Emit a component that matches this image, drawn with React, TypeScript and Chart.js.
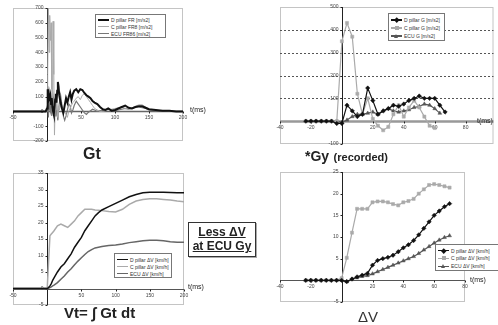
import React, { useEffect, useRef } from 'react';
import Chart from 'chart.js/auto';

// ---------- Gt (top-left) ----------
const gtTime = [-50, -2, 0, 1, 2, 3, 4, 5, 6, 7, 8, 9, 10, 11, 12, 13, 14, 15, 16, 17, 18, 20, 22, 24, 26, 28, 30, 32, 34, 36, 38, 40, 43, 46, 49, 52, 55, 58, 61, 64, 67, 70, 74, 78, 82, 86, 90, 95, 100, 105, 110, 115, 120, 125, 130, 135, 140, 145, 150, 160, 170, 180, 190, 200];
const gtD = [0, 0, 20, 150, 60, 110, 70, 100, 50, 90, 30, 0, -20, 30, 80, 120, 60, 140, 200, 170, 110, 60, 20, -10, 40, 90, 60, 100, 130, 80, 120, 140, 150, 130, 150, 145, 125, 110, 100, 90, 70, 60, 50, 30, 15, 10, 20, 5, 10, 20, 30, 40, 25, 20, 30, 35, 35, 25, 15, 10, 5, 5, 0, 0];
const gtC = [0, 0, 40, 250, 700, 400, 650, 480, 600, 150, -10, 610, 250, -160, 40, 10, 60, 0, -40, 30, 10, 40, 20, 10, 0, -20, -40, 0, 20, 40, 60, 70, 90, 100, 80, 110, 120, 100, 80, 60, 40, 20, 10, 0, 0, 5, 10, 15, 20, 25, 30, 20, 15, 25, 35, 45, 45, 30, 15, 8, 5, 3, 0, 0];
const gtE = [0, 0, 0, 100, -40, 60, 20, 0, 80, -30, 50, 100, 60, 0, -30, 20, 80, -20, -60, 10, 50, 110, 40, -30, -60, -30, 10, 50, 40, -10, 10, 40, 70, 50, 30, 10, -10, -20, -5, 5, 15, 10, 0, 5, 5, 10, 15, 10, 5, 10, 15, 20, 15, 20, 30, 30, 25, 20, 10, 5, 5, 0, 0, 0];
const gtXTicks = [-50, 50, 100, 150, 200];
const gtYTicks = [700, 600, 500, 400, 300, 200, 100, 0, -100, -200];
const gtLabels = ['D pillar FR [m/s2]', 'C pillar FR8 [m/s2]', 'ECU FR86 [m/s2]'];

// ---------- *Gy (top-right) ----------
const gyTime = [-23.3, -20, -16.7, -13.3, -10, -6.7, -3.3, 0, 3.3, 6.7, 10, 13.3, 16.7, 20, 23.3, 26.7, 30, 33.3, 36.7, 40, 43.3, 46.7, 50, 53.3, 56.7, 60, 63.3, 66.7];
const gyD = [0, 0, 0, 0, 0, 0, -10, -10, 70, 45, 20, 30, 145, 90, 30, 45, 55, 70, 65, 75, 90, 100, 110, 100, 100, 100, 70, 40];
const gyC = [0, 0, 0, 0, 0, 0, 0, 350, 430, 370, 120, 30, 100, 10, -20, -40, -25, 30, 70, 20, 60, 90, 60, 20, -20, -30];
const gyE = [0, 0, 0, 0, 0, 0, 0, -5, 5, 20, 30, 30, 35, 40, 30, 45, 55, 45, 40, 45, 50, 60, 65, 75, 70, 55, 35];
const gyXTicks = [-40, -20, 20, 40, 60, 80];
const gyYTicks = [500, 400, 300, 200, 100, -100];
const gyGrid = [100, 200, 300, 400];
const gyLabels = ['D pillar G [m/s2]', 'C pillar G [m/s2]', 'ECU G [m/s2]'];

// ---------- Vt (bottom-left) ----------
const vtTime = [-50, 0, 2, 4, 6, 8, 10, 15, 20, 25, 30, 35, 40, 45, 50, 55, 60, 65, 70, 75, 80, 90, 100, 110, 120, 130, 140, 150, 160, 170, 180, 190, 200];
const vtD = [0, 0, 0.3, 0.8, 1.5, 2.5, 3.2, 5, 6.5, 7.5, 9, 10.5, 12.5, 14, 15.5, 17.5, 19, 20.5, 22, 23, 23.8, 24.8, 25.8, 26.8, 27.8, 28.5, 29, 29.2, 29.2, 29.2, 29.1, 29, 29];
const vtC = [0, 0, 8, 16, 16.5, 17, 17.5, 19, 19.5, 19, 18.5, 19.5, 20.5, 22, 23, 24, 24, 24, 23.8, 23.7, 23.6, 23.3, 23.2, 24, 25.5, 26.5, 27, 27.2, 27.2, 27, 26.8, 26.5, 26.3];
const vtE = [0, 0, 0.1, 0.3, 0.5, 0.8, 1, 1.8, 2.8, 3.8, 5, 6, 7.2, 8.3, 9.3, 10.3, 11.2, 11.8, 12.3, 12.5, 12.7, 13, 13.2, 13.5, 13.9, 14.2, 14.5, 14.6, 14.6, 14.5, 14.2, 14, 14];
const vtXTicks = [-50, 50, 100, 150, 200];
const vtYTicks = [35, 30, 25, 20, 15, 10, 5, 0, -5];
const vtLabels = ['D pillar ΔV [km/h]', 'C pillar ΔV [km/h]', 'ECU ΔV [km/h]'];

// ---------- ΔV (bottom-right) ----------
const dvTime = [-23.3, -20, -16.7, -13.3, -10, -6.7, -3.3, 0, 3.3, 6.7, 10, 13.3, 16.7, 20, 23.3, 26.7, 30, 33.3, 36.7, 40, 43.3, 46.7, 50, 53.3, 56.7, 60, 63.3, 66.7, 70];
const dvD = [0, 0, 0, 0, 0, 0, 0, 0, -0.3, 0.3, 0.8, 1.2, 1.6, 3.5, 4.6, 5, 5.3, 5.8, 6.6, 7.5, 8.2, 9.2, 10.5, 12, 13.5, 15, 16, 17, 17.7];
const dvC = [0, 0, 0, 0, 0, 0, 0, 0.5, 5.2, 11, 16.5, 16.5, 16.5, 18, 18.2, 18.2, 18, 17.6, 17.3, 18, 18.3, 18.8, 20, 21, 22, 22.2, 22, 21.7, 21.4];
const dvE = [0, 0, 0, 0, 0, 0, 0, 0, -0.3, 0.2, 0.6, 0.9, 1.1, 1.5, 2, 2.5, 3, 3.5, 4, 4.5, 5, 5.5, 6.2, 7, 7.8, 8.6, 9.3, 9.9, 10.3];
const dvXTicks = [-40, -20, 20, 40, 60, 80];
const dvYTicks = [25, 20, 15, 10, 5, -5];
const dvLabels = ['D pillar ΔV [km/h]', 'C pillar ΔV [km/h]', 'ECU ΔV [km/h]'];

const W = 498;
const H = 325;

type AxisCfg = {
  xTicks: number[];
  yTicks: number[];
  grid?: number[];
  xAxisColor: string;
  xAxisWidth: number;
};

function axesPlugin(a: AxisCfg) {
  return {
    id: 'customAxes',
    beforeDatasetsDraw(chart: any) {
      const { ctx, chartArea: ca, scales } = chart;
      const x = scales.x;
      const y = scales.y;
      ctx.save();
      ctx.strokeStyle = '#c4c4c4';
      ctx.lineWidth = 1;
      ctx.strokeRect(ca.left + 0.5, ca.top + 0.5, ca.right - ca.left - 1, ca.bottom - ca.top - 1);
      if (a.grid) {
        ctx.setLineDash([2, 2]);
        ctx.strokeStyle = '#555';
        a.grid.forEach((v) => {
          const py = Math.round(y.getPixelForValue(v)) + 0.5;
          ctx.beginPath();
          ctx.moveTo(ca.left, py);
          ctx.lineTo(ca.right, py);
          ctx.stroke();
        });
        ctx.setLineDash([]);
      }
      const x0 = Math.round(x.getPixelForValue(0)) + 0.5;
      const y0 = Math.round(y.getPixelForValue(0)) + 0.5;
      ctx.strokeStyle = a.xAxisColor;
      ctx.lineWidth = a.xAxisWidth;
      ctx.beginPath();
      ctx.moveTo(ca.left, y0);
      ctx.lineTo(ca.right, y0);
      ctx.stroke();
      ctx.strokeStyle = '#222';
      ctx.lineWidth = 1;
      ctx.beginPath();
      ctx.moveTo(x0, ca.top);
      ctx.lineTo(x0, ca.bottom);
      ctx.stroke();
      ctx.font = '5px Arial, "Liberation Sans", sans-serif';
      ctx.fillStyle = '#444';
      ctx.textAlign = 'right';
      ctx.textBaseline = 'middle';
      a.yTicks.forEach((v) => {
        const py = y.getPixelForValue(v);
        ctx.fillText(String(v), x0 - 4, py);
        ctx.beginPath();
        ctx.moveTo(x0 - 2, Math.round(py) + 0.5);
        ctx.lineTo(x0, Math.round(py) + 0.5);
        ctx.stroke();
      });
      ctx.textAlign = 'center';
      ctx.textBaseline = 'top';
      a.xTicks.forEach((v) => {
        const px = x.getPixelForValue(v);
        ctx.fillText(String(v), px, y0 + 4);
        ctx.beginPath();
        ctx.moveTo(Math.round(px) + 0.5, y0);
        ctx.lineTo(Math.round(px) + 0.5, y0 + 2);
        ctx.stroke();
      });
      ctx.restore();
    },
  };
}

type Series = { vals: number[]; color: string; width: number; marker?: string };

function pts(times: number[], vals: number[]) {
  return vals.map((v, i) => ({ x: times[i], y: v }));
}

type PanelProps = {
  times: number[];
  series: Series[];
  area: [number, number, number, number];
  xr: [number, number];
  yr: [number, number];
  axes: AxisCfg;
};

function Panel({ times, series, area, xr, yr, axes }: PanelProps) {
  const ref = useRef<HTMLCanvasElement | null>(null);
  useEffect(() => {
    if (!ref.current) return;
    const chart = new Chart(ref.current, {
      type: 'line',
      data: {
        datasets: series.map((s) => ({
          data: pts(times, s.vals),
          borderColor: s.color,
          backgroundColor: s.color,
          borderWidth: s.width,
          pointRadius: s.marker ? 2.2 : 0,
          pointStyle: (s.marker || 'circle') as any,
          pointBorderWidth: 0.5,
          tension: 0,
        })),
      },
      options: {
        animation: false,
        responsive: false,
        maintainAspectRatio: false,
        events: [],
        layout: { padding: { left: area[0], top: area[1], right: W - area[2], bottom: H - area[3] } },
        plugins: { legend: { display: false }, tooltip: { enabled: false } },
        scales: {
          x: { type: 'linear', min: xr[0], max: xr[1], display: false },
          y: { type: 'linear', min: yr[0], max: yr[1], display: false },
        },
      },
      plugins: [axesPlugin(axes)],
    } as any);
    return () => chart.destroy();
  }, []);
  return (
    <canvas
      ref={ref}
      width={W}
      height={H}
      style={{ position: 'absolute', left: 0, top: 0, width: W, height: H }}
    />
  );
}

function Marker({ kind, color }: { kind?: string; color: string }) {
  if (!kind) return null;
  const base: React.CSSProperties = { position: 'absolute', left: '50%', top: '50%' };
  if (kind === 'rect')
    return <div style={{ ...base, width: 4, height: 4, marginLeft: -2, marginTop: -2, background: color }} />;
  if (kind === 'rectRot')
    return (
      <div
        style={{ ...base, width: 3.5, height: 3.5, marginLeft: -1.75, marginTop: -1.75, background: color, transform: 'rotate(45deg)' }}
      />
    );
  return (
    <div
      style={{
        ...base,
        width: 0,
        height: 0,
        marginLeft: -2.5,
        marginTop: -2.5,
        borderLeft: '2.5px solid transparent',
        borderRight: '2.5px solid transparent',
        borderBottom: `4.5px solid ${color}`,
      }}
    />
  );
}

function Legend({ left, top, width, height, labels, series }: { left: number; top: number; width: number; height: number; labels: string[]; series: Series[] }) {
  const rowH = (height - 4) / labels.length;
  return (
    <div
      style={{
        position: 'absolute',
        left,
        top,
        width,
        height,
        boxSizing: 'border-box',
        border: '1px solid #777',
        background: '#fff',
        padding: '2px 2px',
        whiteSpace: 'nowrap',
      }}
    >
      {labels.map((lb, i) => (
        <div key={i} style={{ height: rowH, display: 'flex', alignItems: 'center' }}>
          <div style={{ position: 'relative', width: 11, height: rowH, marginRight: 2, flex: 'none' }}>
            <div
              style={{
                position: 'absolute',
                left: 0,
                right: 0,
                top: '50%',
                height: Math.max(1, series[i].width),
                marginTop: -Math.max(1, series[i].width) / 2,
                background: series[i].color,
              }}
            />
            <Marker kind={series[i].marker} color={series[i].color} />
          </div>
          <span style={{ fontFamily: 'Arial, "Liberation Sans", sans-serif', fontSize: 5, color: '#333' }}>{lb}</span>
        </div>
      ))}
    </div>
  );
}

const abs = (left: number, top: number, extra: React.CSSProperties = {}): React.CSSProperties => ({
  position: 'absolute',
  left,
  top,
  fontFamily: 'Arial, "Liberation Sans", sans-serif',
  whiteSpace: 'nowrap',
  color: '#222',
  ...extra,
});

export default function App() {
  const gtSeries: Series[] = [
    { vals: gtD, color: '#111', width: 2 },
    { vals: gtC, color: '#aaa', width: 1 },
    { vals: gtE, color: '#777', width: 1.2 },
  ];
  const gySeries: Series[] = [
    { vals: gyD, color: '#111', width: 1.2, marker: 'rectRot' },
    { vals: gyC, color: '#aaa', width: 1.2, marker: 'rect' },
    { vals: gyE, color: '#555', width: 1.2, marker: 'triangle' },
  ];
  const vtSeries: Series[] = [
    { vals: vtD, color: '#111', width: 1.5 },
    { vals: vtC, color: '#aaa', width: 1.5 },
    { vals: vtE, color: '#666', width: 1.5 },
  ];
  const dvSeries: Series[] = [
    { vals: dvD, color: '#111', width: 1.2, marker: 'rectRot' },
    { vals: dvC, color: '#aaa', width: 1.2, marker: 'rect' },
    { vals: dvE, color: '#555', width: 1.2, marker: 'triangle' },
  ];
  const tms: React.CSSProperties = { fontSize: 7, color: '#222' };
  return (
    <div style={{ position: 'fixed', left: 0, top: 0, width: W, height: H, background: '#fff', overflow: 'hidden' }}>
      <Panel
        times={gtTime}
        series={gtSeries}
        area={[13, 8, 183, 141]}
        xr={[-50, 200]}
        yr={[-200, 700]}
        axes={{ xTicks: gtXTicks, yTicks: gtYTicks, xAxisColor: '#666', xAxisWidth: 1.5 }}
      />
      <Panel
        times={gyTime}
        series={gySeries}
        area={[280, 7, 494, 144]}
        xr={[-40, 98]}
        yr={[-100, 500]}
        axes={{ xTicks: gyXTicks, yTicks: gyYTicks, grid: gyGrid, xAxisColor: '#999', xAxisWidth: 2.5 }}
      />
      <Panel
        times={vtTime}
        series={vtSeries}
        area={[13, 173, 184, 305]}
        xr={[-50, 200]}
        yr={[-5, 35]}
        axes={{ xTicks: vtXTicks, yTicks: vtYTicks, xAxisColor: '#555', xAxisWidth: 1.2 }}
      />
      <Panel
        times={dvTime}
        series={dvSeries}
        area={[280, 172, 465, 302]}
        xr={[-40, 80]}
        yr={[-5, 25]}
        axes={{ xTicks: dvXTicks, yTicks: dvYTicks, xAxisColor: '#555', xAxisWidth: 1.2 }}
      />

      <Legend left={95} top={14} width={71} height={24} labels={gtLabels} series={gtSeries} />
      <Legend left={388} top={13} width={57} height={28} labels={gyLabels} series={gySeries} />
      <Legend left={114} top={253} width={58} height={25} labels={vtLabels} series={vtSeries} />
      <Legend left={435} top={244} width={70} height={27} labels={dvLabels} series={dvSeries} />

      <div style={abs(190, 106, tms)}>t(ms)</div>
      <div style={abs(477, 117, tms)}>t(ms)</div>
      <div style={abs(188, 283, tms)}>t(ms)</div>
      <div style={abs(470, 276, tms)}>t(ms)</div>

      <div style={abs(0, 145, { width: 184, textAlign: 'center', fontSize: 16, fontWeight: 'bold', lineHeight: '18px' })}>Gt</div>
      <div style={abs(305, 148, { fontWeight: 'bold', lineHeight: '16px' })}>
        <span style={{ fontSize: 14 }}>*Gy</span> <span style={{ fontSize: 11 }}>(recorded)</span>
      </div>
      <div style={abs(64, 304, { fontSize: 15, fontWeight: 'bold', lineHeight: '18px' })}>Vt= ∫ Gt dt</div>
      <div style={abs(358, 308, { fontSize: 15, lineHeight: '17px', color: '#333' })}>ΔV</div>

      <div
        style={abs(188, 222, {
          width: 68,
          height: 35,
          boxSizing: 'border-box',
          border: '1.5px solid #333',
          boxShadow: '1px 1px 0 #aaa',
          textAlign: 'center',
          fontSize: 12,
          fontWeight: 'bold',
          lineHeight: '14px',
          paddingTop: 2,
          textDecoration: 'underline',
        })}
      >
        Less ΔV
        <br />
        at ECU Gy
      </div>
    </div>
  );
}
